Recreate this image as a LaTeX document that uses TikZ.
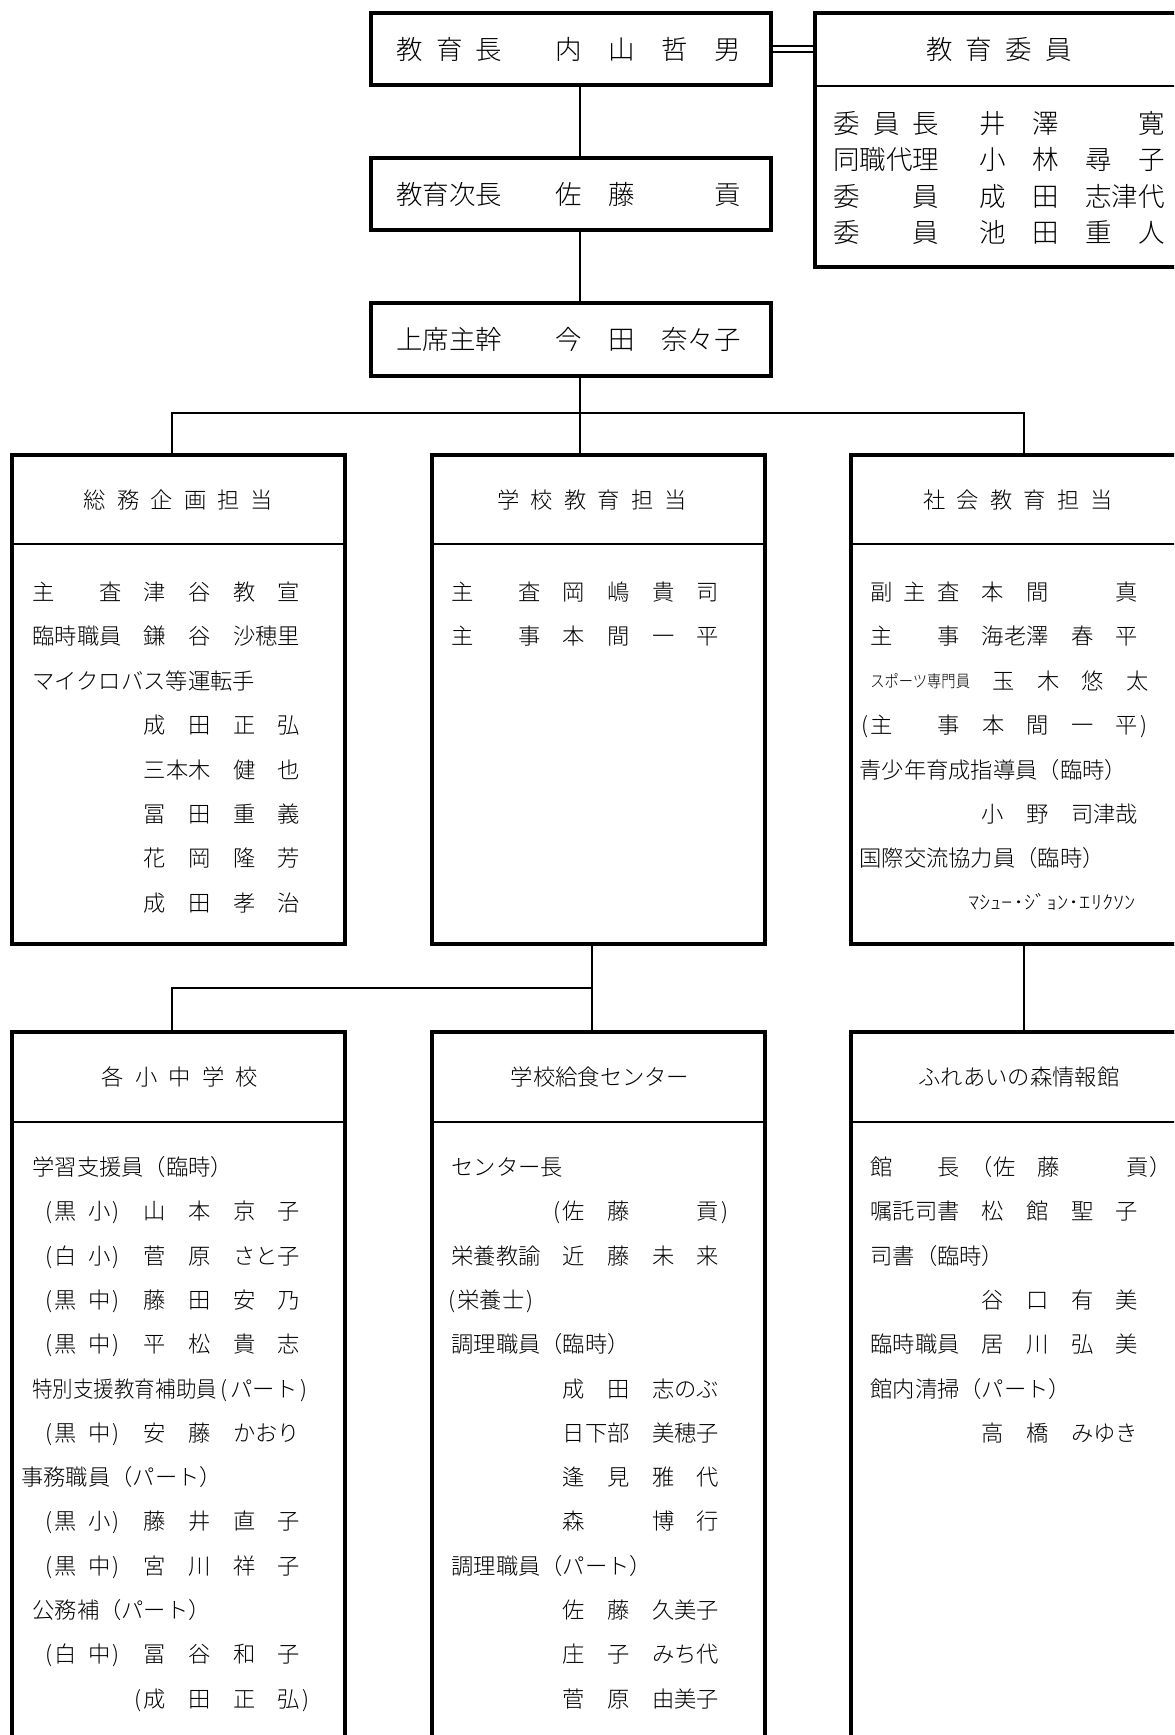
\documentclass[tikz,border=0pt]{standalone}
\usepackage{fontspec}
\IfFontExistsTF{Noto Sans CJK JP Light}{\setmainfont{Noto Sans CJK JP Light}}{\setmainfont{Noto Sans CJK JP}}
\usetikzlibrary{calc}
\newcommand\hs{\hspace*{0.5em}}
\newcommand\hpl{\makebox[0.5em]{(}}
\newcommand\hpr{\makebox[0.5em]{)}}
\newcounter{rc}
\newcommand\rw[3]{\stepcounter{rc}\node[body] (t\arabic{rc}) at (#1,#2+8.5) {#3};}
\newcommand\rwb[3]{\stepcounter{rc}\node[big] (t\arabic{rc}) at (#1,#2+10) {#3};}
\tikzset{
  box/.style={draw, rectangle, line width=1.75pt, inner sep=0pt},
  divl/.style={line width=1pt},
  conn/.style={line width=0.8pt},
  body/.style={anchor=base west, inner sep=0pt, font=\fontsize{11.15pt}{13pt}\selectfont},
  big/.style={anchor=base west, inner sep=0pt, font=\fontsize{13.25pt}{15pt}\selectfont},
  ttl/.style={anchor=base, inner sep=0pt, font=\fontsize{11.15pt}{13pt}\selectfont},
  ttlb/.style={anchor=base, inner sep=0pt, font=\fontsize{13.25pt}{15pt}\selectfont},
}
\begin{document}
\begin{tikzpicture}[x=0.5pt,y=-0.5pt]
\useasboundingbox (0,0) rectangle (1174,1735);
\fill[white] (0,0) rectangle (1174,1735);
\clip (0,0) rectangle (1174,1735);

% helper coordinates
\coordinate (spine) at (580,0);
\coordinate (lcol) at (172,0);
\coordinate (mcol) at (592,0);
\coordinate (rcol) at (1024,0);
\coordinate (bus1) at (0,413);
\coordinate (bus2) at (0,988);
\coordinate (dl1) at (0,46);
\coordinate (dl2) at (0,52);
\coordinate (hb) at (0,86);
\coordinate (hd) at (0,544);
\coordinate (hbt) at (0,1122);

% boxes
\node[box, minimum width=200pt, minimum height=36pt] (chief) at (571,49) {};
\node[box, minimum width=184pt, minimum height=127pt] (board) at (999,140) {};
\node[box, minimum width=200pt, minimum height=36pt] (deputy) at (571,194) {};
\node[box, minimum width=200pt, minimum height=36.5pt] (senior) at (571,339.5) {};
\node[box, minimum width=166.5pt, minimum height=244.5pt] (d1) at (178.5,699.5) {};
\node[box, minimum width=166.5pt, minimum height=244.5pt] (d2) at (598.5,699.5) {};
\node[box, minimum width=166.5pt, minimum height=244.5pt] (d3) at (1017.5,699.5) {};
\node[box, minimum width=166.5pt, minimum height=374pt] (b1) at (178.5,1406) {};
\node[box, minimum width=166.5pt, minimum height=374pt] (b2) at (598.5,1406) {};
\node[box, minimum width=166.5pt, minimum height=374pt] (b3) at (1017.5,1406) {};

% header dividers
\draw[divl] (board.west |- hb) -- (board.east |- hb);
\draw[divl] (d1.west |- hd) -- (d1.east |- hd);
\draw[divl] (d2.west |- hd) -- (d2.east |- hd);
\draw[divl] (d3.west |- hd) -- (d3.east |- hd);
\draw[divl] (b1.west |- hbt) -- (b1.east |- hbt);
\draw[divl] (b2.west |- hbt) -- (b2.east |- hbt);
\draw[divl] (b3.west |- hbt) -- (b3.east |- hbt);

% connectors
\draw[conn] (chief.east |- dl1) -- (board.west |- dl1);
\draw[conn] (chief.east |- dl2) -- (board.west |- dl2);
\draw[conn] (chief.south -| spine) -- (deputy.north -| spine);
\draw[conn] (deputy.south -| spine) -- (senior.north -| spine);
\draw[conn] (senior.south -| spine) -- (d2.north -| spine);
\draw[conn] (d1.north -| lcol) -- (lcol |- bus1) -- (rcol |- bus1) -- (d3.north -| rcol);
\draw[conn] (d2.south -| mcol) -- (b2.north -| mcol);
\draw[conn] (b1.north -| lcol) -- (lcol |- bus2) -- (mcol |- bus2);
\draw[conn] (d3.south -| rcol) -- (b3.north -| rcol);

% top texts
\rwb{396}{49}{教\hs 育\hs 長　　内　山　哲　男}
\rwb{396}{194}{教育次長　　佐　藤　　　貢}
\rwb{396}{339.5}{上席主幹　　今　田　奈々子}
\node[ttlb] (boardt) at (999,59.5) {教\hs 育\hs 委\hs 員};
\rwb{833}{123}{委\hs 員\hs 長　\hs 井　澤　　　寛}
\rwb{833}{159.5}{同職代理　\hs 小　林　尋　子}
\rwb{833}{196}{委　　員　\hs 成　田　志津代}
\rwb{833}{232.5}{委　　員　\hs 池　田　重　人}

% titles
\node[ttl] (d1t) at (178.5,508) {総\hs 務\hs 企\hs 画\hs 担\hs 当};
\node[ttl] (d2t) at (592,508) {学\hs 校\hs 教\hs 育\hs 担\hs 当};
\node[ttl] (d3t) at (1018,508) {社\hs 会\hs 教\hs 育\hs 担\hs 当};
\node[ttl] (b1t) at (180,1085.5) {各\hs 小\hs 中\hs 学\hs 校};
\node[ttl] (b2t) at (600,1085.5) {学校給食センター};
\node[ttl] (b3t) at (1019,1085.5) {ふれあいの森情報館};

% box d1
\rw{32}{592}{主　　査　津　谷　教　宣}
\rw{32}{636.4}{臨時職員　鎌　谷　沙穂里}
\rw{32}{680.8}{マイクロバス等運転手}
\rw{32}{725.2}{　　　　　成　田　正　弘}
\rw{32}{769.6}{　　　　　三本木　健　也}
\rw{32}{814}{　　　　　冨　田　重　義}
\rw{32}{858.4}{　　　　　花　岡　隆　芳}
\rw{32}{902.8}{　　　　　成　田　孝　治}

% box d2
\rw{451}{592}{主　　査　岡　嶋　貴　司}
\rw{451}{636.4}{主　　事　本　間　一　平}

% box d3
\rw{870}{592}{副\hs 主\hs 査　本　間　　　真}
\rw{870}{636.4}{主　　事　海老澤　春　平}
\rw{870}{678.8}{\scalebox{0.64}[0.75]{スポーツ専門員}}
\rw{992}{680.8}{玉　木　悠　太}
\rw{859}{725.2}{\hpl 主　　事　本　間　一　平\hpr}
\rw{859}{769.6}{青少年育成指導員（臨時）}
\rw{870}{814}{　　　　　小　野　司津哉}
\rw{859}{858.4}{国際交流協力員（臨時）}
\rw{968}{901}{\scalebox{1}[0.85]{ﾏｼｭｰ･ｼﾞｮﾝ･ｴﾘｸｿﾝ}}

% box b1
\rw{32}{1167}{学習支援員（臨時）}
\rw{32}{1211.3}{\hs\hpl 黒\hs 小\hpr　山　本　京　子}
\rw{32}{1255.6}{\hs\hpl 白\hs 小\hpr　菅　原　さと子}
\rw{32}{1299.9}{\hs\hpl 黒\hs 中\hpr　藤　田　安　乃}
\rw{32}{1344.2}{\hs\hpl 黒\hs 中\hpr　平　松　貴　志}
\rw{32}{1388.5}{\scalebox{0.92}[1]{特別支援教育補助員}\makebox[0.6em]{(}パート\makebox[0.6em]{)}}
\rw{32}{1432.8}{\hs\hpl 黒\hs 中\hpr　安　藤　かおり}
\rw{21}{1477.1}{事務職員（パート）}
\rw{32}{1521.4}{\hs\hpl 黒\hs 小\hpr　藤　井　直　子}
\rw{32}{1565.7}{\hs\hpl 黒\hs 中\hpr　宮　川　祥　子}
\rw{32}{1610}{公務補（パート）}
\rw{32}{1654.3}{\hs\hpl 白\hs 中\hpr　冨　谷　和　子}
\rw{32}{1698.6}{　　　　\hs\hpl 成　田　正　弘\hpr}

% box b2
\rw{451}{1167}{センター長}
\rw{451}{1211.3}{　　　　\hs\hpl 佐　藤　　　貢\hpr}
\rw{451}{1255.6}{栄養教諭　近　藤　未　来}
\rw{446}{1299.9}{\hpl 栄養士\hpr}
\rw{451}{1344.2}{調理職員（臨時）}
\rw{451}{1388.5}{　　　　　成　田　志のぶ}
\rw{451}{1432.8}{　　　　　日下部　美穂子}
\rw{451}{1477.1}{　　　　　逢　見　雅　代}
\rw{451}{1521.4}{　　　　　森　　　博　行}
\rw{451}{1565.7}{調理職員（パート）}
\rw{451}{1610}{　　　　　佐　藤　久美子}
\rw{451}{1654.3}{　　　　　庄　子　みち代}
\rw{451}{1698.6}{　　　　　菅　原　由美子}

% box b3
\rw{870}{1167}{館　　長\hs\makebox[1em][r]{（}佐　藤　　　貢\makebox[0.3em][l]{）}}
\rw{870}{1211.3}{嘱託司書　松　館　聖　子}
\rw{870}{1255.6}{司書（臨時）}
\rw{870}{1299.9}{　　　　　谷　口　有　美}
\rw{870}{1344.2}{臨時職員　居　川　弘　美}
\rw{870}{1388.5}{館内清掃（パート）}
\rw{870}{1432.8}{　　　　　高　橋　みゆき}
\end{tikzpicture}
\end{document}
